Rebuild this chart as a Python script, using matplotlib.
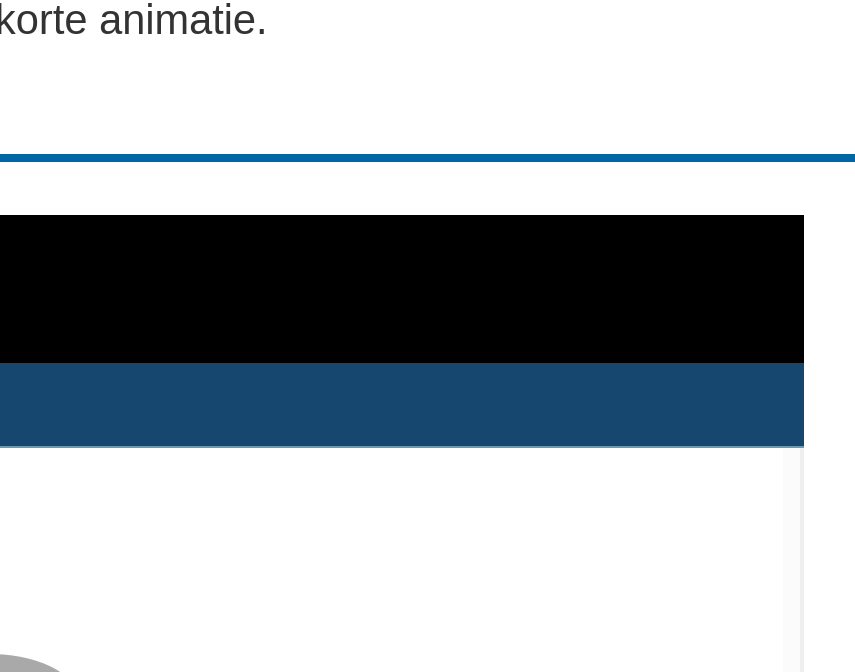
import matplotlib
matplotlib.use('Agg')
import matplotlib.pyplot as plt
from matplotlib.patches import Rectangle, Ellipse

caption = 'korte animatie.'

# page regions in pixel space: (x0, y0, x1, y1, colour)
bands = [
    (0, 154, 855, 162, '#0066a6'),   # rule under text
    (0, 215, 804, 363, '#000000'),   # black header
    (0, 363, 804, 446, '#15476f'),   # blue nav bar
    (0, 446, 804, 448, '#6f97ad'),   # bar edge
    (783, 448, 800, 672, '#fbfbfb'), # faint shadow
    (800, 448, 804, 672, '#efefef'),
]

fig = plt.figure(figsize=(8.55, 6.72), dpi=100)
ax = fig.add_axes([0, 0, 1, 1])
ax.set_xlim(0, 855)
ax.set_ylim(672, 0)
ax.axis('off')

for x0, y0, x1, y1, c in bands:
    ax.add_patch(Rectangle((x0, y0), x1 - x0, y1 - y0, color=c, lw=0))

# grey avatar edge at bottom-left
ax.add_patch(Ellipse((-10, 702), 180, 96, color='#a9a9a9', lw=0))

ax.text(-5, 34, caption, fontsize=30, family='Liberation Sans',
        color='#333333', va='baseline', ha='left')

fig.savefig('out.png', dpi=100)
